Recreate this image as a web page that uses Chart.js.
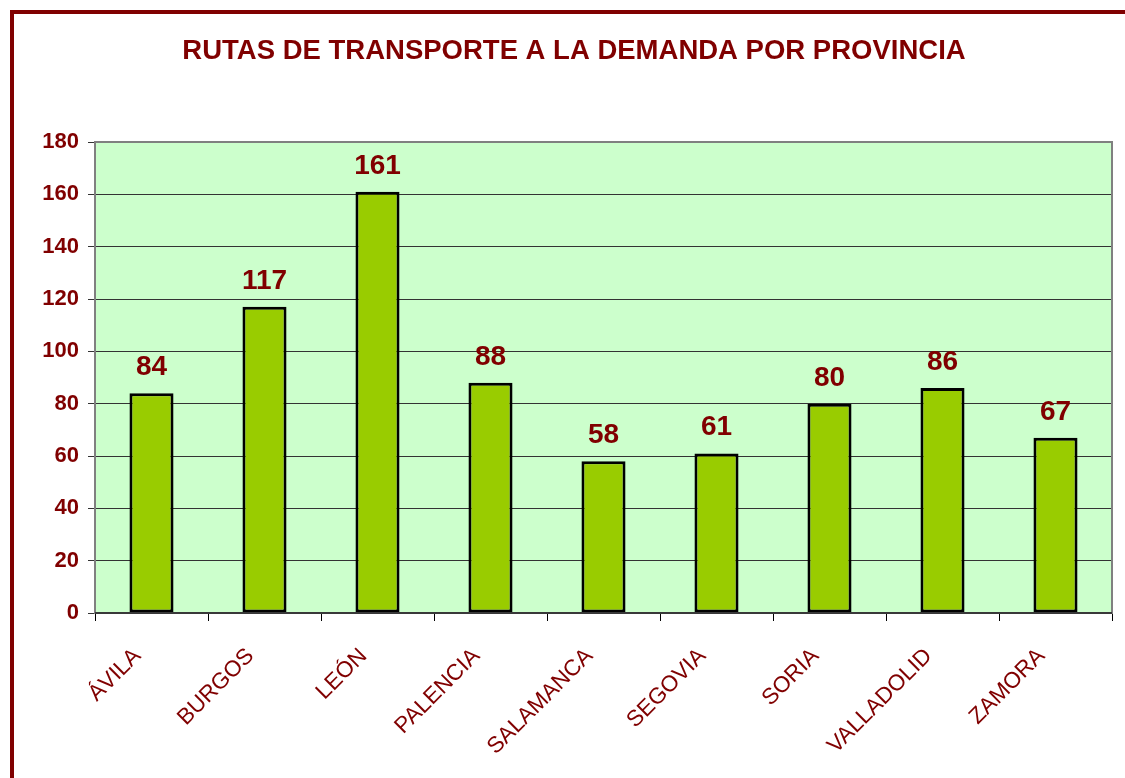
<!DOCTYPE html>
<html lang="es">
<head>
  <meta charset="UTF-8">
  <title>Rutas de transporte a la demanda por provincia</title>
  <script src="https://cdn.jsdelivr.net/npm/chart.js"></script>
  <style>
    body {
      margin: 0;
      background: #fff;
    }
    #rutasChart {
      display: block;
    }
  </style>
</head>
<body>
<canvas id="rutasChart" width="1125" height="778"></canvas>

<script>
  const provincias = ['ÁVILA', 'BURGOS', 'LEÓN', 'PALENCIA', 'SALAMANCA', 'SEGOVIA', 'SORIA', 'VALLADOLID', 'ZAMORA'];
  const rutas = [84, 117, 161, 88, 58, 61, 80, 86, 67];
  const yTicks = [0, 20, 40, 60, 80, 100, 120, 140, 160, 180];

  const granate = '#800000';
  const fuente = '"Liberation Sans", Arial, sans-serif';

  // fondo del area, marco y etiquetas de valor
  const extras = {
    id: 'extras',
    beforeDraw(chart) {
      const { ctx, chartArea: a } = chart;
      ctx.save();
      ctx.fillStyle = '#ccffcc';
      ctx.fillRect(a.left, a.top, a.right - a.left, a.bottom - a.top);
      ctx.strokeStyle = granate;
      ctx.lineWidth = 4;
      ctx.strokeRect(12, 12, 1200, 900);
      ctx.restore();
    },
    afterDraw(chart) {
      const { ctx, chartArea: a } = chart;
      ctx.save();
      ctx.strokeStyle = '#808080';
      ctx.lineWidth = 2;
      ctx.strokeRect(a.left, a.top, a.right - a.left, a.bottom - a.top);
      ctx.beginPath();
      ctx.strokeStyle = '#222';
      ctx.lineWidth = 1.5;
      ctx.moveTo(a.left, a.bottom);
      ctx.lineTo(a.right, a.bottom);
      ctx.stroke();

      ctx.fillStyle = granate;
      ctx.font = 'bold 28px ' + fuente;
      ctx.textAlign = 'center';
      ctx.textBaseline = 'alphabetic';
      chart.getDatasetMeta(0).data.forEach((bar, i) => {
        ctx.fillText(rutas[i], bar.x, bar.y - 18);
      });
      ctx.restore();
    }
  };

  new Chart(document.getElementById('rutasChart'), {
    type: 'bar',
    data: {
      labels: provincias,
      datasets: [{
        data: rutas,
        backgroundColor: '#99cc00',
        borderColor: '#000',
        borderWidth: 3,
        borderSkipped: false,
        categoryPercentage: 1,
        barPercentage: 0.39
      }]
    },
    options: {
      responsive: false,
      animation: false,
      layout: { padding: { left: 36, right: 13, top: 0, bottom: 0 } },
      plugins: {
        legend: { display: false },
        tooltip: { enabled: false },
        title: {
          display: true,
          text: 'RUTAS DE TRANSPORTE A LA DEMANDA POR PROVINCIA',
          color: granate,
          font: { family: fuente, size: 27.5, weight: 'bold' },
          padding: { top: 35, bottom: 74 }
        }
      },
      scales: {
        x: {
          offset: true,
          grid: {
            offset: true,
            drawOnChartArea: false,
            color: '#000',
            tickLength: 8
          },
          border: { color: '#222', width: 1 },
          ticks: {
            color: granate,
            font: { family: fuente, size: 22.5 },
            minRotation: 45,
            maxRotation: 45,
            autoSkip: false,
            labelOffset: -14,
            padding: 22
          },
          afterFit(scale) { scale.height = 165; }
        },
        y: {
          min: 0,
          max: 180,
          afterBuildTicks(scale) { scale.ticks = yTicks.map(v => ({ value: v })); },
          grid: {
            color: '#333',
            lineWidth: 1,
            tickLength: 7
          },
          border: { color: '#808080', width: 2 },
          ticks: {
            color: granate,
            font: { family: fuente, size: 22, weight: 'bold' },
            padding: 9
          },
          afterFit(scale) { scale.width = 59; }
        }
      }
    },
    plugins: [extras]
  });
</script>
</body>
</html>
